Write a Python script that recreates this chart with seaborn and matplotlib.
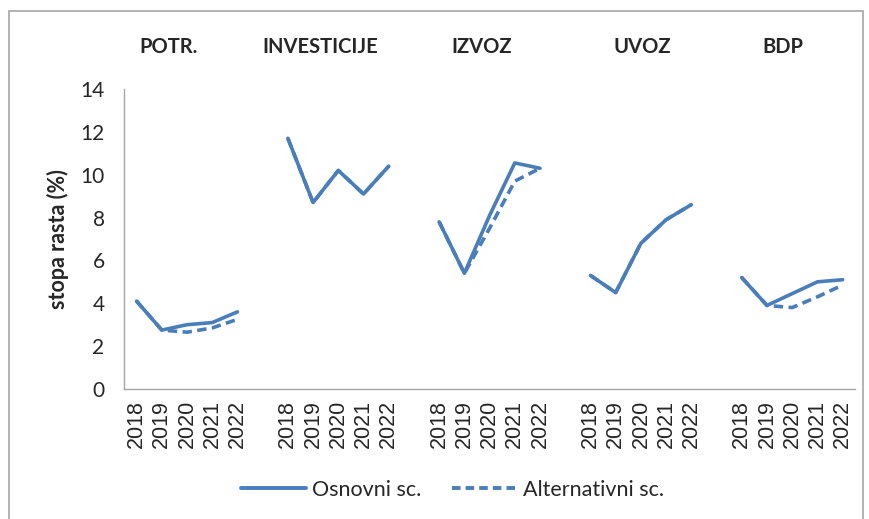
import pandas as pd
import numpy as np
import seaborn as sns
import matplotlib.pyplot as plt
from matplotlib.lines import Line2D
from matplotlib.patches import Rectangle

# data
groups = ['POTR.', 'INVESTICIJE', 'IZVOZ', 'UVOZ', 'BDP']
years = ['2018', '2019', '2020', '2021', '2022']
osnovni = [
    [4.1, 2.75, 3.0, 3.1, 3.6],
    [11.7, 8.7, 10.2, 9.1, 10.4],
    [7.8, 5.4, 8.1, 10.55, 10.3],
    [5.3, 4.5, 6.8, 7.9, 8.6],
    [5.2, 3.9, 4.45, 5.0, 5.1],
]
alternativni = [
    [4.1, 2.75, 2.65, 2.85, 3.25],
    [11.7, 8.7, 10.2, 9.1, 10.4],
    [7.8, 5.4, 7.5, 9.7, 10.3],
    [5.3, 4.5, 6.8, 7.9, 8.6],
    [5.2, 3.9, 3.8, 4.3, 4.85],
]
scenarios = ['Osnovni sc.', 'Alternativni sc.']

# long-form table, one empty slot between groups on the x axis
rows = []
for s, series in zip(scenarios, [osnovni, alternativni]):
    for g, vals in enumerate(series):
        for i, v in enumerate(vals):
            rows.append({'scenarij': s, 'grupa': groups[g], 'pos': g * 6 + i, 'godina': years[i], 'rast': v})
df = pd.DataFrame(rows)

blue = '#4A7EBB'
sns.set_style('white')
plt.rcParams['font.family'] = ['Lato', 'DejaVu Sans']

fig = plt.figure(figsize=(8.7, 5.19), dpi=100)
ax = fig.add_axes([0.1425, 0.2505, 0.8405, 0.578])

sns.lineplot(data=df, x='pos', y='rast', style='scenarij', units='grupa', estimator=None,
             color=blue, linewidth=2.6, dashes={'Osnovni sc.': '', 'Alternativni sc.': (2.6, 1.5)},
             style_order=scenarios, legend=False, ax=ax, sort=False)

ax.set_xlim(-0.5, 28.5)
ax.set_ylim(0, 14)
ax.set_yticks(np.arange(0, 15, 2))
ax.tick_params(axis='y', labelsize=15, length=0, pad=14)
pos = df[df['scenarij'] == scenarios[0]]['pos'].tolist()
ax.set_xticks(pos)
ax.set_xticklabels(df[df['scenarij'] == scenarios[0]]['godina'].tolist(), rotation=90,
                   fontsize=15.5, family='Liberation Sans')
ax.tick_params(axis='x', length=0, pad=8)
ax.set_xlabel('')
ax.set_ylabel('stopa rasta (%)', fontsize=15.5, fontweight='bold', labelpad=8)

for side in ['top', 'right']:
    ax.spines[side].set_visible(False)
for side in ['left', 'bottom']:
    ax.spines[side].set_color('#A6A6A6')
    ax.spines[side].set_linewidth(1)

# group titles above the plot
title_x = [1.25, 7.28, 13.7, 20.06, 25.65]
for g, tx in zip(groups, title_x):
    ax.text(tx, 1.14, g, transform=ax.get_xaxis_transform(), ha='center', va='center',
            fontsize=14.5, fontweight='bold')

handles = [Line2D([], [], color=blue, lw=2.8),
           Line2D([], [], color=blue, lw=2.8, dashes=(2.2, 1.3))]
fig.legend(handles, scenarios, loc='center', bbox_to_anchor=(0.52, 0.056), ncol=2, frameon=False,
           fontsize=15.5, handlelength=3.0, handletextpad=0.3, columnspacing=1.4)

# chart-area border
fig.patches.append(Rectangle((9 / 870, -0.05), 854 / 870, 1.05 - 11 / 519, transform=fig.transFigure,
                             fill=False, edgecolor='#A6A6A6', linewidth=1.2))

fig.savefig('out.png', dpi=100)
